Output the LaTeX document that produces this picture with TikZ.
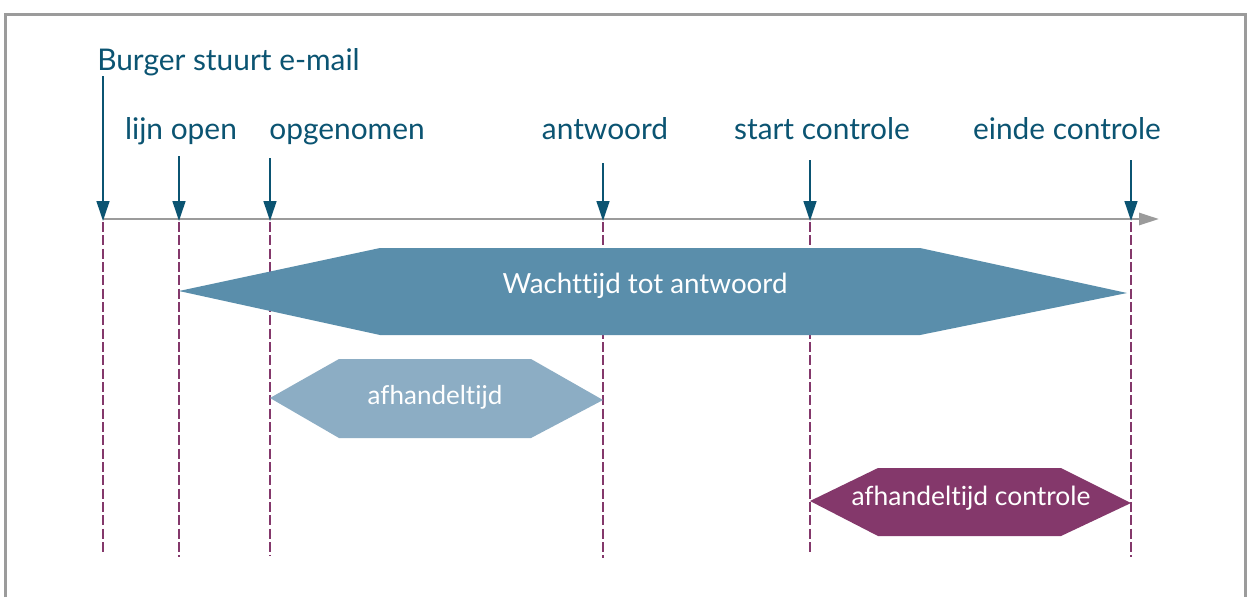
\documentclass[tikz,border=0pt]{standalone}
\usepackage{fontspec}
\setmainfont{Lato}[Ligatures={NoCommon}]
\usetikzlibrary{arrows.meta}
\definecolor{teal}{HTML}{0B5472}
\definecolor{tline}{HTML}{9B9B9B}
\definecolor{plum}{HTML}{84386B}
\definecolor{bigblue}{HTML}{5A8EAB}
\definecolor{lightblue}{HTML}{8CADC4}
\tikzset{
  lbl/.style={text=teal,font=\fontsize{22.4}{24}\selectfont,inner sep=0pt,anchor=base},
  marker/.style={draw=teal,line width=1.9pt,-{Triangle[length=15pt,width=9.5pt]}},
  guide/.style={draw=plum,line width=2pt,dash pattern=on 7.5pt off 2.5pt},
  hexlbl/.style={text=white,inner sep=0pt},
}
\begin{document}
\begin{tikzpicture}[x=0.75pt,y=-0.75pt]
\useasboundingbox (0,0) rectangle (1248,597);
\fill[white] (0,0) rectangle (1248,597);
\draw[tline,line width=2.2pt] (5.5,597) -- (5.5,14.5) -- (1245.5,14.5) -- (1245.5,597);
% timeline
\coordinate (t0) at (103,219);
\coordinate (tend) at (1159,219);
\draw[tline,line width=2.2pt,-{Triangle[length=15pt,width=9pt]}] (t0) -- (tend);
% dashed guides
\foreach \x/\e in {103/554,179/557,270/556,603/558,810/553,1131/557}{
  \draw[guide] (\x,222) -- (\x,\e);
}
% hexagons
\fill[bigblue] (179,291) -- (380,248) -- (920,248) -- (1127,293) -- (920,335) -- (380,335) -- cycle;
\node[hexlbl,font=\fontsize{20.8}{23}\selectfont] (wacht) at (645,286) {Wachttijd tot antwoord};
\fill[lightblue] (270,398) -- (339,359) -- (531,359) -- (603,400) -- (531,438) -- (339,438) -- cycle;
\node[hexlbl,font=\fontsize{19.5}{21}\selectfont] (afh) at (435,397) {afhandeltijd};
\fill[plum] (810,501) -- (878,468) -- (1061,468) -- (1131,503) -- (1061,536) -- (878,536) -- cycle;
\node[hexlbl,font=\fontsize{19.8}{21}\selectfont] (afhc) at (971,498) {afhandeltijd controle};
% labels
\node[lbl,anchor=base west] (burger) at (97,70) {Burger stuurt e-mail};
\node[lbl] (lijn) at (181,139) {lijn open};
\node[lbl] (opg) at (347,139) {opgenomen};
\node[lbl] (antw) at (605,139) {antwoord};
\node[lbl] (start) at (822,139) {start controle};
\node[lbl] (einde) at (1067,139) {einde controle};
% marker arrows
\coordinate (a0) at (103,76);
\coordinate (a1) at (179,156);
\coordinate (a2) at (270,158);
\coordinate (a3) at (603,163);
\coordinate (a4) at (810,160);
\coordinate (a5) at (1131,160);
\foreach \i/\x in {0/103,1/179,2/270,3/603,4/810,5/1131}{
  \draw[marker] (a\i) -- (\x,221);
}
\end{tikzpicture}
\end{document}
